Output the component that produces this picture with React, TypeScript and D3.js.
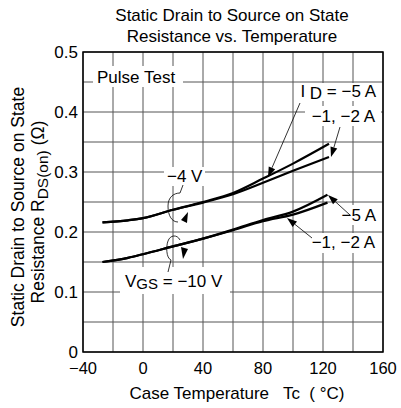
import React from 'react';
import * as d3 from 'd3';

// Axis ticks
const tempTicks = [-40, 0, 40, 80, 120, 160];
const resTicks = [0, 0.1, 0.2, 0.3, 0.4, 0.5];

// VGS = -4 V curves
const tempsUpper = [-27, -10, 0, 20, 40, 60, 80, 100, 124];
const resUpper5A = [0.216, 0.2195, 0.223, 0.237, 0.25, 0.265, 0.289, 0.314, 0.347];
const resUpper12A = [0.216, 0.2195, 0.223, 0.237, 0.249, 0.263, 0.282, 0.302, 0.325];

// VGS = -10 V curves
const tempsLower = [-27, -10, 0, 20, 40, 60, 80, 100, 123];
const resLower5A = [0.15, 0.157, 0.163, 0.176, 0.189, 0.204, 0.22, 0.234, 0.262];
const resLower12A = [0.15, 0.157, 0.163, 0.176, 0.189, 0.203, 0.218, 0.229, 0.249];

const FONT = '"Liberation Sans", Arial, Helvetica, sans-serif';

function Arrow({ x1, y1, x2, y2 }: { x1: number; y1: number; x2: number; y2: number }) {
  const ang = Math.atan2(y2 - y1, x2 - x1);
  const L = 10, Wd = 3.5;
  const bx = x2 - L * Math.cos(ang), by = y2 - L * Math.sin(ang);
  const px = -Math.sin(ang) * Wd, py = Math.cos(ang) * Wd;
  return (
    <g>
      <line x1={x1} y1={y1} x2={bx} y2={by} stroke="#000" strokeWidth={0.8} />
      <path d={`M${x2},${y2}L${bx + px},${by + py}L${bx - px},${by - py}Z`} fill="#000" />
    </g>
  );
}

export default function App() {
  const W = 401, H = 408;
  const x = d3.scaleLinear().domain([-40, 160]).range([83, 383]);
  const y = d3.scaleLinear().domain([0, 0.5]).range([352, 52]);
  const line = d3
    .line<[number, number]>()
    .x((d) => x(d[0]))
    .y((d) => y(d[1]))
    .curve(d3.curveMonotoneX);

  const series = [
    tempsUpper.map((t, i) => [t, resUpper5A[i]] as [number, number]),
    tempsUpper.map((t, i) => [t, resUpper12A[i]] as [number, number]),
    tempsLower.map((t, i) => [t, resLower5A[i]] as [number, number]),
    tempsLower.map((t, i) => [t, resLower12A[i]] as [number, number]),
  ];

  const vGrid = d3.range(-40, 161, 20);
  const hGrid = d3.range(0, 0.5001, 0.05);
  const fs = 16.5;
  const afs = 17;

  return (
    <svg width={W} height={H} style={{ position: 'absolute', left: 0, top: 0, background: '#fff' }} fontFamily={FONT}>
      <rect x={0} y={0} width={W} height={H} fill="#fff" />
      {/* title */}
      <text x={232} y={21} textAnchor="middle" fontSize={17}>Static Drain to Source on State</text>
      <text x={232} y={42} textAnchor="middle" fontSize={17}>Resistance vs. Temperature</text>

      {/* grid */}
      {vGrid.map((t) => (
        <line key={'v' + t} x1={x(t)} x2={x(t)} y1={y(0)} y2={y(0.5)} stroke="#555" strokeWidth={1} />
      ))}
      {hGrid.map((r) => (
        <line key={'h' + r} x1={x(-40)} x2={x(160)} y1={y(r)} y2={y(r)} stroke="#555" strokeWidth={1} />
      ))}

      {/* label backgrounds */}
      <rect x={93} y={66} width={90} height={21} fill="#fff" />
      <rect x={297} y={83} width={84} height={18} fill="#fff" />
      <rect x={305} y={106} width={76} height={20} fill="#fff" />
      <rect x={164} y={167} width={41} height={19} fill="#fff" />
      <rect x={333} y={205} width={48} height={20} fill="#fff" />
      <rect x={305} y={233} width={76} height={20} fill="#fff" />
      <rect x={120} y={267} width={110} height={27} fill="#fff" />

      {/* border */}
      <rect x={x(-40)} y={y(0.5)} width={x(160) - x(-40)} height={y(0) - y(0.5)} fill="none" stroke="#000" strokeWidth={1.5} />

      {/* curves */}
      {series.map((s, i) => (
        <path key={i} d={line(s) || ''} fill="none" stroke="#000" strokeWidth={2.2} />
      ))}

      {/* tick labels */}
      {resTicks.map((r) => (
        <text key={'yt' + r} x={78} y={y(r) + 5.5} textAnchor="end" fontSize={17}>
          {r === 0 ? '0' : r.toFixed(1)}
        </text>
      ))}
      {tempTicks.map((t) => (
        <text key={'xt' + t} x={x(t)} y={374} textAnchor="middle" fontSize={fs}>
          {t < 0 ? '\u2212' + Math.abs(t) : String(t)}
        </text>
      ))}

      {/* axis titles */}
      <text x={237} y={399} textAnchor="middle" fontSize={17} style={{ whiteSpace: 'pre' }}>
        {'Case Temperature   Tc  ( \u00B0C)'}
      </text>
      <g transform="translate(24,207) rotate(-90)">
        <text x={0} y={0} textAnchor="middle" fontSize={17.5}>Static Drain to Source on State</text>
      </g>
      <g transform="translate(44,212) rotate(-90)">
        <text x={0} y={0} textAnchor="middle" fontSize={17.5} style={{ whiteSpace: 'pre' }}>
          <tspan>Resistance R</tspan>
          <tspan dy={4} fontSize={15.5}>DS(on)</tspan>
          <tspan dy={-4}>{' (\u03A9)'}</tspan>
        </text>
      </g>

      {/* annotations */}
      <text x={97} y={83} fontSize={afs}>Pulse Test</text>
      <text x={376} y={97} textAnchor="end" fontSize={afs} style={{ whiteSpace: 'pre' }}>
        <tspan>I </tspan>
        <tspan dy={2}>D</tspan>
        <tspan dy={-2}>{' = \u22125 A'}</tspan>
      </text>
      <text x={375} y={122} textAnchor="end" fontSize={afs}>{'\u22121, \u22122 A'}</text>
      <text x={167} y={182} fontSize={afs}>{'\u22124 V'}</text>
      <text x={376} y={221} textAnchor="end" fontSize={afs}>{'\u22125 A'}</text>
      <text x={375} y={248} textAnchor="end" fontSize={afs}>{'\u22121, \u22122 A'}</text>
      <text x={125} y={287} fontSize={afs} style={{ whiteSpace: 'pre' }}>
        <tspan>V</tspan>
        <tspan dy={2} fontSize={15}>GS</tspan>
        <tspan dy={-2}>{' = \u221210 V'}</tspan>
      </text>

      {/* arrows */}
      <Arrow x1={300} y1={103} x2={268} y2={177} />
      <Arrow x1={340} y1={127} x2={331} y2={157} />
      <Arrow x1={350} y1={215} x2={328} y2={195} />
      <Arrow x1={312} y1={238} x2={287} y2={218} />

      {/* group loops */}
      <path d="M183,185 L180,193 C174,193 168,197 168,206 C168,216 172,222 178,222" fill="none" stroke="#000" strokeWidth={0.8} />
      <path d="M188,212 L181,220 L187,223 Z" fill="#000" />
      <path d="M168,272 L171,260 C166,258 166,246 168,241 C170,235 177,234 180,240" fill="none" stroke="#000" strokeWidth={0.8} />
      <path d="M181,247 L188,249 L183,259 Z" fill="#000" />
    </svg>
  );
}
